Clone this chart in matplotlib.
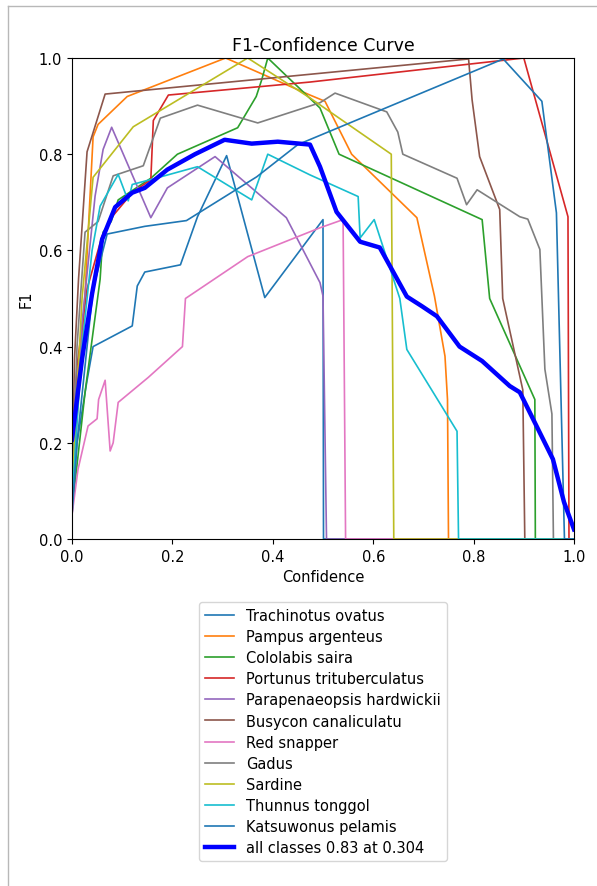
import matplotlib
matplotlib.use('Agg')
import matplotlib.pyplot as plt
from matplotlib.lines import Line2D

plt.rcParams['font.size'] = 10.5

# Per-class F1 curves (confidence, F1).
names = ['Trachinotus ovatus', 'Pampus argenteus', 'Cololabis saira',
         'Portunus trituberculatus', 'Parapenaeopsis hardwickii',
         'Busycon canaliculatu', 'Red snapper', 'Gadus', 'Sardine',
         'Thunnus tonggol', 'Katsuwonus pelamis']

trach_x = [0, 0.01, 0.03, 0.042, 0.12, 0.13, 0.145, 0.216, 0.25, 0.308, 0.384, 0.50, 0.501, 1.0]
trach_y = [0.05, 0.2, 0.33, 0.40, 0.443, 0.526, 0.555, 0.57, 0.67, 0.797, 0.502, 0.664, 0, 0]

pampus_x = [0, 0.01, 0.026, 0.042, 0.052, 0.11, 0.306, 0.474, 0.504, 0.557, 0.687, 0.722, 0.743, 0.748, 0.75, 1.0]
pampus_y = [0.08, 0.25, 0.51, 0.836, 0.862, 0.92, 1.0, 0.923, 0.91, 0.80, 0.668, 0.505, 0.38, 0.29, 0, 0]

colo_x = [0, 0.026, 0.056, 0.062, 0.078, 0.092, 0.157, 0.21, 0.33, 0.367, 0.378, 0.39, 0.494, 0.532, 0.817, 0.832, 0.922, 0.923, 1.0]
colo_y = [0.06, 0.305, 0.54, 0.638, 0.66, 0.705, 0.75, 0.80, 0.855, 0.92, 0.955, 1.0, 0.896, 0.80, 0.664, 0.50, 0.29, 0, 0]

port_x = [0, 0.01, 0.03, 0.06, 0.08, 0.12, 0.157, 0.162, 0.192, 0.474, 0.90, 0.988, 0.99, 1.0]
port_y = [0.15, 0.36, 0.52, 0.63, 0.67, 0.72, 0.747, 0.87, 0.923, 0.95, 1.0, 0.67, 0, 0]

para_x = [0, 0.02, 0.046, 0.062, 0.079, 0.157, 0.19, 0.285, 0.427, 0.494, 0.50, 0.507, 1.0]
para_y = [0.1, 0.45, 0.713, 0.81, 0.856, 0.668, 0.73, 0.795, 0.668, 0.533, 0.505, 0, 0]

busy_x = [0, 0.005, 0.013, 0.03, 0.066, 0.79, 0.797, 0.812, 0.852, 0.858, 0.898, 0.902, 1.0]
busy_y = [0.1, 0.375, 0.54, 0.805, 0.925, 0.998, 0.913, 0.795, 0.685, 0.50, 0.31, 0, 0]

snap_x = [0, 0.012, 0.032, 0.05, 0.053, 0.066, 0.076, 0.082, 0.092, 0.152, 0.22, 0.226, 0.35, 0.494, 0.54, 0.545, 1.0]
snap_y = [0.05, 0.145, 0.235, 0.25, 0.29, 0.33, 0.183, 0.20, 0.284, 0.336, 0.40, 0.50, 0.587, 0.647, 0.664, 0, 0]

gadus_x = [0, 0.01, 0.02, 0.026, 0.052, 0.082, 0.142, 0.176, 0.25, 0.37, 0.494, 0.524, 0.627, 0.649, 0.659,
           0.767, 0.786, 0.807, 0.892, 0.908, 0.932, 0.942, 0.956, 0.959, 1.0]
gadus_y = [0.1, 0.4, 0.55, 0.638, 0.66, 0.755, 0.776, 0.875, 0.902, 0.865, 0.907, 0.927, 0.888, 0.846, 0.80,
           0.75, 0.695, 0.726, 0.67, 0.665, 0.602, 0.353, 0.26, 0, 0]

sard_x = [0, 0.02, 0.042, 0.122, 0.35, 0.474, 0.636, 0.641, 1.0]
sard_y = [0.1, 0.5, 0.752, 0.857, 1.0, 0.917, 0.80, 0, 0]

thun_x = [0, 0.02, 0.04, 0.056, 0.092, 0.112, 0.12, 0.17, 0.25, 0.358, 0.39, 0.474, 0.57, 0.574, 0.602,
          0.653, 0.667, 0.767, 0.77, 1.0]
thun_y = [0.08, 0.4, 0.6, 0.692, 0.758, 0.703, 0.737, 0.751, 0.774, 0.705, 0.80, 0.757, 0.712, 0.626, 0.664,
          0.50, 0.394, 0.224, 0, 0]

kats_x = [0, 0.01, 0.03, 0.042, 0.07, 0.145, 0.228, 0.368, 0.45, 0.859, 0.936, 0.965, 0.981, 1.0]
kats_y = [0.05, 0.2, 0.4, 0.52, 0.634, 0.65, 0.662, 0.753, 0.82, 0.998, 0.91, 0.678, 0, 0]

all_x = [0, 0.02, 0.04, 0.06, 0.086, 0.12, 0.145, 0.19, 0.245, 0.304, 0.358, 0.41, 0.474, 0.494, 0.527,
         0.574, 0.613, 0.667, 0.697, 0.727, 0.772, 0.817, 0.872, 0.892, 0.912, 0.958, 0.98, 1.0]
all_y = [0.207, 0.374, 0.51, 0.623, 0.69, 0.72, 0.73, 0.768, 0.80, 0.83, 0.822, 0.826, 0.82, 0.774, 0.68,
         0.618, 0.606, 0.504, 0.484, 0.463, 0.40, 0.37, 0.318, 0.305, 0.263, 0.166, 0.077, 0.02]

curves = [(trach_x, trach_y), (pampus_x, pampus_y), (colo_x, colo_y), (port_x, port_y),
          (para_x, para_y), (busy_x, busy_y), (snap_x, snap_y), (gadus_x, gadus_y),
          (sard_x, sard_y), (thun_x, thun_y), (kats_x, kats_y)]

fig = plt.figure(figsize=(5.97, 8.87), dpi=100)
ax = fig.add_axes([72 / 597, 1 - 540 / 887, 502 / 597, 481 / 887])

for i, (name, (xs, ys)) in enumerate(zip(names, curves)):
    ax.plot(xs, ys, linewidth=1.2, color='C%d' % (i % 10), label=name)

ax.plot(all_x, all_y, linewidth=3.2, color='blue', label='all classes 0.83 at 0.304')

ax.set_xlim(0, 1)
ax.set_ylim(0, 1)
ax.set_xlabel('Confidence')
ax.set_ylabel('F1')
ax.set_title('F1-Confidence Curve', fontsize=12.5)
ax.legend(loc='upper center', bbox_to_anchor=(0.5, -0.116), labelspacing=0.42)

# Thin gray frame at the top and left edge of the screenshot.
fig.add_artist(Line2D([8 / 597, 8 / 597], [0, 1 - 7 / 887], color='#b8b8b8', linewidth=1))
fig.add_artist(Line2D([8 / 597, 1], [1 - 7 / 887, 1 - 7 / 887], color='#b8b8b8', linewidth=1))

fig.savefig('out.png', dpi=100)
